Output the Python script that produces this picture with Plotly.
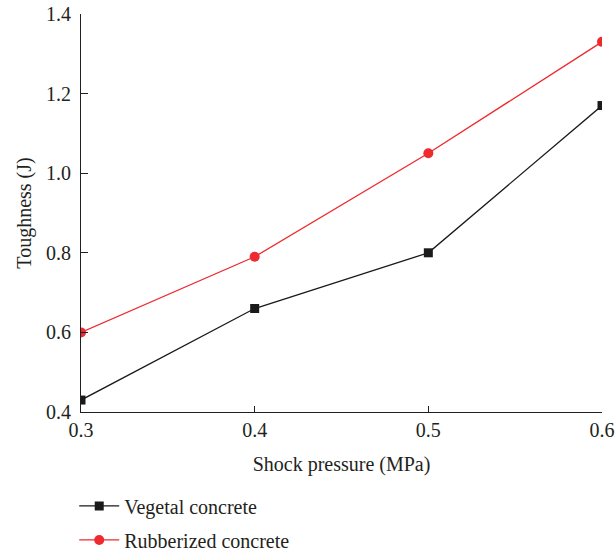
import plotly.graph_objects as go

pressure = [0.3, 0.4, 0.5, 0.6]
vegetal = [0.43, 0.66, 0.80, 1.17]
rubberized = [0.60, 0.79, 1.05, 1.33]
x_ticks = [0.3, 0.4, 0.5, 0.6]
y_ticks = [0.4, 0.6, 0.8, 1.0, 1.2, 1.4]

font = "Liberation Serif"
fs = 20

fig = go.Figure()
fig.add_trace(go.Scatter(
    x=pressure, y=vegetal, mode="lines+markers", name="Vegetal concrete",
    line=dict(color="#1a1a1a", width=1.3),
    marker=dict(symbol="square", size=9, color="#1a1a1a"),
    legendgroup="a",
))
fig.add_trace(go.Scatter(
    x=pressure, y=rubberized, mode="lines+markers", name="Rubberized concrete",
    line=dict(color="#ee2a2f", width=1.3),
    marker=dict(symbol="circle", size=10, color="#ee2a2f"),
    legendgroup="b",
))

fig.update_layout(
    width=616, height=559,
    margin=dict(l=81, r=14, t=14, b=147, autoexpand=False),
    paper_bgcolor="white", plot_bgcolor="white",
    font=dict(family=font, size=fs, color="#231f20"),
    showlegend=True,
    legend=dict(
        x=-0.013, xanchor="left", y=-0.187, yanchor="top",
        font=dict(family=font, size=fs, color="#231f20"),
        traceorder="grouped", tracegroupgap=5, itemwidth=40,
        bgcolor="rgba(0,0,0,0)",
    ),
    xaxis=dict(
        range=[0.3, 0.6], tickvals=x_ticks, tickformat=".1f",
        showline=True, linecolor="#231f20", linewidth=1.2,
        ticks="inside", ticklen=6, tickcolor="#231f20",
        showgrid=False, zeroline=False, automargin=False,
        title=dict(text="Shock pressure (MPa)", standoff=16,
                   font=dict(family=font, size=fs)),
        tickfont=dict(family=font, size=fs),
    ),
    yaxis=dict(
        range=[0.4, 1.4], tickvals=y_ticks, tickformat=".1f",
        showline=True, linecolor="#231f20", linewidth=1.2,
        ticks="inside", ticklen=7, tickcolor="#231f20",
        ticklabelstandoff=5,
        showgrid=False, zeroline=False, automargin=False,
        title=dict(text="Toughness (J)", standoff=8,
                   font=dict(family=font, size=fs)),
        tickfont=dict(family=font, size=fs),
    ),
)

fig.write_html(
    "out.html",
    config={"displayModeBar": False},
    post_script="document.body.style.margin='0';document.body.style.overflow='hidden';",
)
